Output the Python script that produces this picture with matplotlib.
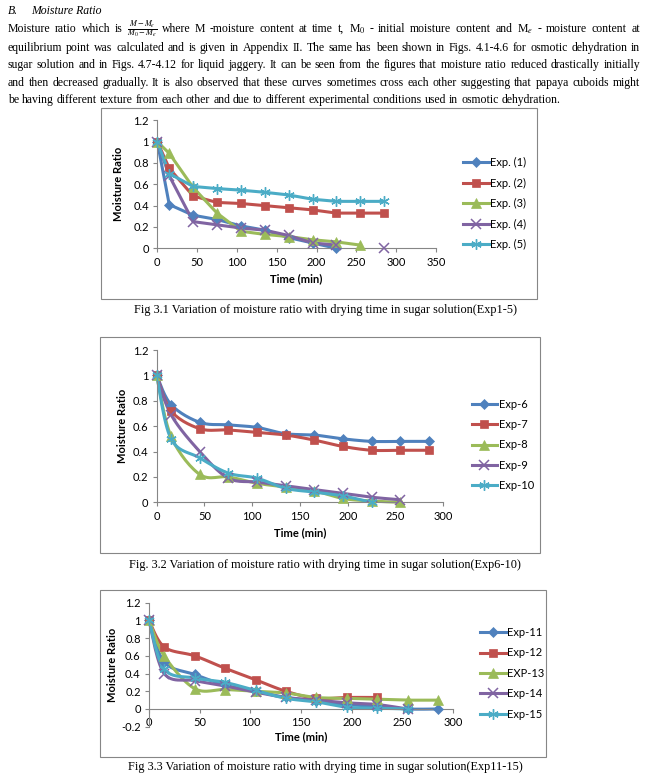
import numpy as np
import matplotlib
matplotlib.use('Agg')
import matplotlib.pyplot as plt
from matplotlib.lines import Line2D
from matplotlib.patches import Rectangle

plt.rcParams['mathtext.fontset'] = 'stix'
plt.rcParams['axes.unicode_minus'] = False

W, H = 646, 782

# drying times (min)
time_min = [0, 15, 45, 75, 105, 135, 165, 195, 225, 255, 285]

# Fig 3.1 - Exp 1-5 (None = no reading)
exp1 = [1.0, 0.41, 0.31, 0.27, 0.21, 0.17, 0.10, 0.05, 0.0]
exp2 = [1.0, 0.75, 0.49, 0.43, 0.42, 0.40, 0.38, 0.36, 0.33, 0.33, 0.33]
exp3 = [1.0, 0.89, 0.57, 0.33, 0.16, 0.13, 0.11, 0.08, 0.06, 0.03]
exp4 = [1.0, 0.68, 0.25, 0.22, 0.19, 0.17, 0.12, 0.05, 0.03, None, 0.0]
exp5 = [1.0, 0.70, 0.58, 0.56, 0.545, 0.525, 0.50, 0.46, 0.44, 0.44, 0.44]
labels_1 = ['Exp. (1)', 'Exp. (2)', 'Exp. (3)', 'Exp. (4)', 'Exp. (5)']

# Fig 3.2 - Exp 6-10
exp6 = [1.0, 0.77, 0.63, 0.61, 0.59, 0.54, 0.53, 0.50, 0.48, 0.48, 0.48]
exp7 = [1.0, 0.72, 0.58, 0.57, 0.55, 0.53, 0.49, 0.44, 0.41, 0.41, 0.41]
exp8 = [1.0, 0.52, 0.22, 0.20, 0.15, 0.12, 0.09, 0.03, 0.01, 0.0]
exp9 = [1.0, 0.69, 0.40, 0.19, 0.16, 0.13, 0.10, 0.07, 0.04, 0.02]
exp10 = [1.0, 0.50, 0.35, 0.23, 0.19, 0.11, 0.08, 0.05, 0.0]
labels_2 = ['Exp-6', 'Exp-7', 'Exp-8', 'Exp-9', 'Exp-10']

# Fig 3.3 - Exp 11-15
exp11 = [1.0, 0.53, 0.39, 0.27, 0.20, 0.13, 0.09, 0.05, 0.03, 0.0, 0.0]
exp12 = [1.0, 0.70, 0.60, 0.46, 0.33, 0.20, 0.12, 0.13, 0.13]
exp13 = [1.0, 0.60, 0.23, 0.22, 0.20, 0.18, 0.13, 0.12, 0.11, 0.10, 0.10]
exp14 = [1.0, 0.40, 0.32, 0.26, 0.19, 0.13, 0.10, 0.07, 0.05, 0.0]
exp15 = [1.0, 0.45, 0.35, 0.30, 0.21, 0.12, 0.08, 0.02, 0.01, 0.0]
labels_3 = ['Exp-11', 'Exp-12', 'EXP-13', 'Exp-14', 'Exp-15']

colors = ['#4F81BD', '#C0504D', '#9BBB59', '#8064A2', '#4BACC6']
markers = [('D', 5, 0.5), ('s', 6, 0.5), ('^', 7, 0.5), ('x', 6.5, 1.1), ((6, 2, 0), 7.5, 1.0)]

AX_FONT = 'Lato'
AX_SIZE = 8
GRAY = '#868686'
SERIF = ['Liberation Serif', 'DejaVu Serif']


def fig_rect(x0, y0, x1, y1):
    """pixel box (top-left origin) -> figure fraction rect"""
    return [x0 / W, 1 - y1 / H, (x1 - x0) / W, (y1 - y0) / H]


def smooth_curve(x, y, n=16):
    # bezier smoothing similar to the office "smoothed line"
    pts = np.column_stack([x, y])
    out = [pts[0]]
    for i in range(len(pts) - 1):
        p0 = pts[i - 1] if i > 0 else pts[i]
        p1 = pts[i]
        p2 = pts[i + 1]
        p3 = pts[i + 2] if i + 2 < len(pts) else pts[i + 1]
        c1 = p1 + (p2 - p0) / 6.0
        c2 = p2 - (p3 - p1) / 6.0
        t = np.linspace(0, 1, n)[1:, None]
        seg = ((1 - t) ** 3) * p1 + 3 * ((1 - t) ** 2) * t * c1 + 3 * (1 - t) * t ** 2 * c2 + t ** 3 * p2
        out.extend(seg)
    out = np.array(out)
    return out[:, 0], out[:, 1]


def draw_chart(ax, series, labels, smooth, xmax, ymin, legend_xy):
    for vals, color, (mk, ms, mew) in zip(series, colors, markers):
        x = np.array(time_min[:len(vals)], dtype=float)
        y = np.array([np.nan if v is None else v for v in vals], dtype=float)
        if smooth:
            xs, ys = smooth_curve(x, y)
        else:
            xs, ys = x, y
        ax.plot(xs, ys, color=color, lw=2.2, clip_on=False, solid_capstyle='round',
                solid_joinstyle='round', zorder=2)
        ax.plot(x, y, ls='none', marker=mk, ms=ms, color=color, mec=color, mew=mew,
                clip_on=False, zorder=3)

    ax.set_xlim(0, xmax)
    ax.set_ylim(ymin, 1.2)
    ax.set_xticks(np.arange(0, xmax + 1, 50))
    ax.set_yticks(np.round(np.arange(ymin, 1.21, 0.2), 1))
    ax.yaxis.set_major_formatter(plt.FuncFormatter(lambda v, p: '%g' % round(v, 1)))
    for s in ['top', 'right']:
        ax.spines[s].set_visible(False)
    for s in ['left', 'bottom']:
        ax.spines[s].set_color(GRAY)
        ax.spines[s].set_linewidth(0.8)
    if ymin < 0:
        ax.spines['bottom'].set_position(('data', 0))
    ax.tick_params(direction='out', length=3, width=0.8, color=GRAY, labelsize=AX_SIZE,
                   pad=3)
    for lab in ax.get_xticklabels() + ax.get_yticklabels():
        lab.set_fontfamily(AX_FONT)

    handles = []
    for color, (mk, ms, mew) in zip(colors, markers):
        handles.append(Line2D([], [], color=color, lw=2.2, marker=mk, ms=ms, mec=color, mew=mew))
    ax.figure.legend(handles, labels, loc='upper left',
                     bbox_to_anchor=(legend_xy[0] / W, 1 - legend_xy[1] / H),
                     frameon=False, borderpad=0, borderaxespad=0,
                     handlelength=2.3, handletextpad=0.15, labelspacing=0.85,
                     prop={'family': AX_FONT, 'size': AX_SIZE})


def justify_line(fig, renderer, tokens, y, x0, x1, size, justify=True):
    texts = []
    for tok in tokens:
        t = fig.text(0, 1 - y / H, tok, fontsize=size, family=SERIF,
                     ha='left', va='baseline')
        texts.append(t)
    widths = [t.get_window_extent(renderer).width for t in texts]
    if justify and len(tokens) > 1:
        gap = (x1 - x0 - sum(widths)) / (len(tokens) - 1)
    else:
        gap = size * 100 / 72 * 0.25
    x = x0
    for t, w in zip(texts, widths):
        t.set_x(x / W)
        x += w + gap


fig = plt.figure(figsize=(W / 100, H / 100), dpi=100)
fig.patch.set_facecolor('white')
renderer = fig.canvas.get_renderer()

# --- text above the charts ---
TXT = 8.5
CAP = 8.8
fig.text(8 / W, 1 - 14 / H, 'B.', fontsize=TXT, family=SERIF, style='italic',
         va='baseline')
fig.text(31 / W, 1 - 14 / H, 'Moisture Ratio', fontsize=TXT, family=SERIF,
         style='italic', va='baseline')

para = [
    ['Moisture', 'ratio', 'which', 'is', r'$\frac{M-M_e}{M_0-M_e}$', 'where', 'M', '-moisture',
     'content', 'at', 'time', 't,', r'M$_0$', '-', 'initial', 'moisture', 'content', 'and',
     r'M$_e$', '-', 'moisture', 'content', 'at'],
    'equilibrium point was calculated and is given in Appendix II. The same has been shown in '
    'Figs. 4.1-4.6 for osmotic dehydration in'.split(),
    'sugar solution and in Figs. 4.7-4.12 for liquid jaggery. It can be seen from the figures '
    'that moisture ratio reduced drastically initially'.split(),
    'and then decreased gradually. It is also observed that these curves sometimes cross each '
    'other suggesting that papaya cuboids might'.split(),
    'be having different texture from each other and due to different experimental conditions '
    'used in osmotic dehydration.'.split(),
]
line_y = [32, 51, 68, 86, 103]
for i, (toks, yy) in enumerate(zip(para, line_y)):
    justify_line(fig, renderer, toks, yy, 8, 640, TXT, justify=(i < len(para) - 1))

# --- chart boxes ---
for (bx0, by0, bx1, by1) in [(101, 108, 537, 299), (100, 337, 540, 553), (100, 590, 546, 757)]:
    fig.add_artist(Rectangle((bx0 / W, 1 - by1 / H), (bx1 - bx0) / W, (by1 - by0) / H,
                             transform=fig.transFigure, fill=False, ec=GRAY, lw=0.8))

# --- Fig 3.1 ---
ax1 = fig.add_axes(fig_rect(157.3, 120.3, 436, 248.3))
draw_chart(ax1, [exp1, exp2, exp3, exp4, exp5], labels_1, False, 350, 0, (463, 157))
ax1.set_ylabel('Moisture Ratio', fontsize=AX_SIZE, fontweight='bold', family=AX_FONT)
ax1.yaxis.set_label_coords(-0.119, 0.5)
ax1.set_xlabel('Time (min)', fontsize=AX_SIZE, fontweight='bold', family=AX_FONT)
ax1.xaxis.set_label_coords(0.5, -0.197)

# --- Fig 3.2 ---
ax2 = fig.add_axes(fig_rect(156.7, 350, 443.3, 502.3))
draw_chart(ax2, [exp6, exp7, exp8, exp9, exp10], labels_2, True, 300, 0, (471.7, 398.5))
ax2.set_ylabel('Moisture Ratio', fontsize=AX_SIZE, fontweight='bold', family=AX_FONT)
ax2.yaxis.set_label_coords(-0.101, 0.5)
ax2.set_xlabel('Time (min)', fontsize=AX_SIZE, fontweight='bold', family=AX_FONT)
ax2.xaxis.set_label_coords(0.5, -0.162)

# --- Fig 3.3 ---
ax3 = fig.add_axes(fig_rect(149, 602.7, 453.3, 726.7))
draw_chart(ax3, [exp11, exp12, exp13, exp14, exp15], labels_3, True, 300, -0.2, (480, 627))
ax3.set_ylabel('Moisture Ratio', fontsize=AX_SIZE, fontweight='bold', family=AX_FONT)
ax3.yaxis.set_label_coords(-0.103, 0.5)
ax3.set_xlabel('Time (min)', fontsize=AX_SIZE, fontweight='bold', family=AX_FONT)
ax3.xaxis.set_label_coords(0.5, -0.035)

# --- captions ---
caps = [(313, 'Fig 3.1 Variation of moisture ratio with drying time in sugar solution(Exp1-5)'),
        (568, 'Fig. 3.2 Variation of moisture ratio with drying time in sugar solution(Exp6-10)'),
        (770, 'Fig 3.3 Variation of moisture ratio with drying time in sugar solution(Exp11-15)')]
for yy, txt in caps:
    fig.text(325 / W, 1 - yy / H, txt, fontsize=CAP, family=SERIF,
             ha='center', va='baseline')

fig.savefig('out.png', dpi=100, facecolor='white')
